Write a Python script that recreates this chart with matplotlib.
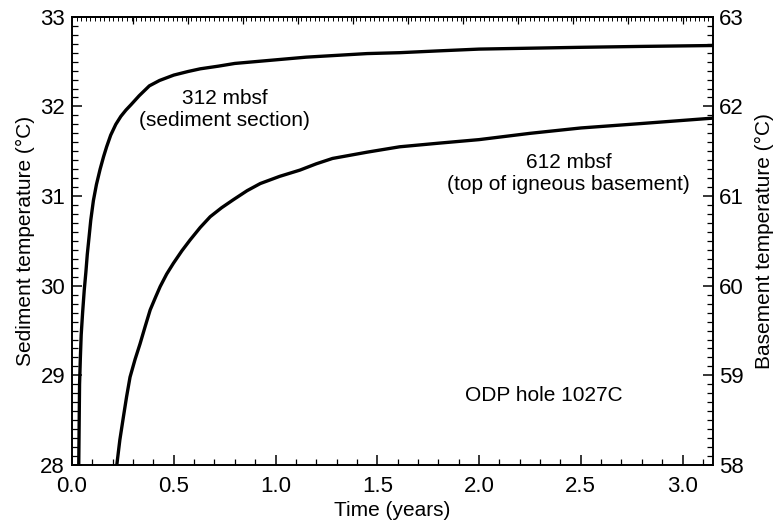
import numpy as np
import matplotlib
matplotlib.use("Agg")
import matplotlib.pyplot as plt
from matplotlib.ticker import MultipleLocator, FixedLocator, NullFormatter

plt.rcParams['font.family'] = ['Liberation Sans', 'DejaVu Sans']

# 312 mbsf (sediment section), left axis
t_sed = [0.033, 0.035, 0.037, 0.041, 0.045, 0.052, 0.06, 0.068, 0.075, 0.084, 0.092,
         0.105, 0.12, 0.138, 0.155, 0.17, 0.19, 0.215, 0.24, 0.265, 0.29, 0.33,
         0.38, 0.43, 0.5, 0.57, 0.63, 0.72, 0.8, 0.9, 1.0, 1.15, 1.3, 1.45,
         1.61, 1.8, 2.0, 2.25, 2.5, 2.8, 3.15]
T_sed = [28.0, 28.45, 28.9, 29.2, 29.45, 29.7, 29.95, 30.15, 30.35, 30.55, 30.73,
         30.95, 31.13, 31.3, 31.44, 31.55, 31.68, 31.8, 31.89, 31.96, 32.02, 32.12,
         32.23, 32.29, 32.35, 32.39, 32.42, 32.45, 32.48, 32.5, 32.52, 32.55, 32.57, 32.59,
         32.6, 32.62, 32.64, 32.65, 32.66, 32.67, 32.68]

# 612 mbsf (top of igneous basement), right axis
t_bas = [0.22, 0.235, 0.252, 0.268, 0.285, 0.31, 0.334, 0.36, 0.384, 0.41, 0.433,
         0.465, 0.498, 0.54, 0.58, 0.63, 0.679, 0.735, 0.793, 0.86, 0.925, 1.02,
         1.12, 1.2, 1.28, 1.45, 1.61, 1.8, 2.0, 2.25, 2.5, 2.8, 3.15]
T_bas = [58.0, 58.28, 58.53, 58.76, 58.98, 59.18, 59.35, 59.55, 59.73, 59.87, 59.99,
         60.13, 60.25, 60.39, 60.51, 60.65, 60.77, 60.87, 60.96, 61.06, 61.14, 61.22,
         61.29, 61.36, 61.42, 61.49, 61.55, 61.59, 61.63, 61.7, 61.76, 61.81, 61.87]

fig = plt.figure(figsize=(7.77, 5.26), dpi=100)
ax = fig.add_axes([0.0927, 0.116, 0.825, 0.852])
ax2 = ax.twinx()

ax.plot(t_sed, T_sed, color='black', linewidth=2.4, solid_joinstyle='round')
ax2.plot(t_bas, T_bas, color='black', linewidth=2.4, solid_joinstyle='round')

ax.set_xlim(0, 3.15)
ax.set_ylim(28, 33)
ax2.set_ylim(58, 63)

ax.xaxis.set_major_locator(MultipleLocator(0.5))
ax.xaxis.set_minor_locator(MultipleLocator(0.1))
ax.yaxis.set_major_locator(MultipleLocator(1))
ax.yaxis.set_minor_locator(MultipleLocator(0.1))
ax2.yaxis.set_major_locator(MultipleLocator(1))
ax2.yaxis.set_minor_locator(MultipleLocator(0.1))
ax.xaxis.set_major_formatter(matplotlib.ticker.FormatStrFormatter('%.1f'))

ax.tick_params(axis='x', which='major', direction='in', length=7, width=1.1, labelsize=16, pad=8)
ax.tick_params(axis='y', which='major', direction='in', length=7, width=1.1, labelsize=16, pad=5)
ax.tick_params(axis='both', which='minor', direction='in', length=4, width=0.9)
ax2.tick_params(axis='y', which='major', direction='in', length=7, width=1.1, labelsize=16, pad=4)
ax2.tick_params(axis='y', which='minor', direction='in', length=4, width=0.9)

# top axis: dense ticks, no labels
top = ax.secondary_xaxis('top')
top.xaxis.set_major_locator(FixedLocator(np.arange(0.30, 3.15, 0.27)))
top.xaxis.set_minor_locator(MultipleLocator(0.0225))
top.xaxis.set_major_formatter(NullFormatter())
top.tick_params(which='major', direction='in', length=5, width=0.9)
top.tick_params(which='minor', direction='in', length=3, width=0.7)

for a in (ax, ax2):
    for s in a.spines.values():
        s.set_linewidth(1.2)
top.spines['top'].set_linewidth(1.2)

ax.set_xlabel('Time (years)', fontsize=15, labelpad=3)
ax.set_ylabel('Sediment temperature (°C)', fontsize=15, labelpad=4)
ax2.set_ylabel('Basement temperature (°C)', fontsize=15, labelpad=8)

ax.text(0.75, 31.97, '312 mbsf\n(sediment section)', ha='center', va='center',
        fontsize=15, linespacing=1.2)
ax.text(2.44, 31.25, '612 mbsf\n(top of igneous basement)', ha='center', va='center',
        fontsize=15, linespacing=1.2)
ax.text(2.32, 28.78, 'ODP hole 1027C', ha='center', va='center', fontsize=15)

fig.savefig('out.png', dpi=100)
